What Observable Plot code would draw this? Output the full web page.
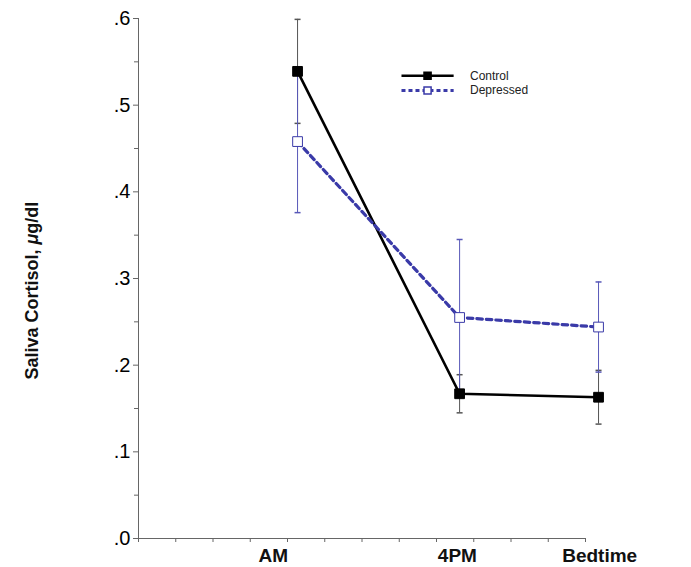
<!DOCTYPE html>
<html><head><meta charset="utf-8">
<script src="https://cdn.jsdelivr.net/npm/d3@7"></script>
<script src="https://cdn.jsdelivr.net/npm/@observablehq/plot@0.6"></script>
<style>body{margin:0;background:#fff;} svg{overflow:visible}</style>
</head><body><div id="chart"></div>
<script>
const times = ["AM", "4PM", "Bedtime"];
const timePos = [4.27, 8.62, 12.35];
const labelPos = [3.62, 8.56, 12.38];
const controlMean = [0.539, 0.167, 0.163];
const controlErr = [0.060, 0.022, 0.031];
const depressedMean = [0.458, 0.255, 0.244];
const depressedErr = [0.082, 0.090, 0.052];
const yTicks = [0, 0.1, 0.2, 0.3, 0.4, 0.5, 0.6];
const yMinor = [0.05, 0.15, 0.25, 0.35, 0.45, 0.55];
const xTicks = d3.range(0, 13);
const yTitle = "Saliva Cortisol, μg/dl";
const legendItems = ["Control", "Depressed"];

const control = times.map((t, i) => ({t, x: timePos[i], y: controlMean[i], lo: controlMean[i] - controlErr[i], hi: controlMean[i] + controlErr[i]}));
const depressed = times.map((t, i) => ({t, x: timePos[i], y: depressedMean[i], lo: depressedMean[i] - depressedErr[i], hi: depressedMean[i] + depressedErr[i]}));

const capSymbol = {draw(ctx, size) { const w = 3; ctx.moveTo(-w, 0); ctx.lineTo(w, 0); }};
const blue = "#3a3aa8";
const blueBar = "#5858b8";
const grayBar = "#555";

// legend in data coordinates
const legX1 = 7.06, legX2 = 8.46, legXm = 7.76, legTx = 8.9;
const legY = [0.534, 0.517];

const fontFamily = "'Liberation Sans', Arial, Helvetica, sans-serif";

const chart = Plot.plot({
  width: 691,
  height: 567,
  marginLeft: 138,
  marginRight: 106,
  marginTop: 18,
  marginBottom: 29,
  style: {fontFamily, fontSize: "20px", background: "#fff", color: "#000"},
  x: {type: "linear", domain: [0, 12], axis: null},
  y: {type: "linear", domain: [0, 0.6], axis: null},
  marks: [
    // axes
    Plot.ruleX([0], {stroke: "#666", strokeWidth: 1}),
    Plot.ruleY([0], {stroke: "#666", strokeWidth: 1}),
    Plot.axisY({ticks: yTicks, tickSize: 5, tickPadding: 3, stroke: "#666", fontSize: 20, tickFormat: d => d3.format(".1f")(d).replace(/^0/, ""), label: null}),
    Plot.axisY({ticks: yMinor, tickSize: 4, tickFormat: () => "", stroke: "#666", label: null}),
    Plot.axisX({ticks: xTicks, tickSize: 4, tickFormat: () => "", stroke: "#666", label: null}),
    Plot.text(times, {x: (d, i) => labelPos[i], y: () => 0, text: d => d, dy: 17, fontWeight: "bold", fontSize: 19, fill: "#111"}),
    Plot.text([yTitle], {x: () => -2.85, y: () => 0.286, text: d => d, rotate: -90, fontWeight: "bold", fontSize: 18, fill: "#111", className: "ytitle"}),
    // error bars
    Plot.ruleX(control, {x: "x", y1: "lo", y2: "hi", stroke: grayBar, strokeWidth: 1}),
    Plot.dot(control, {x: "x", y: "lo", symbol: capSymbol, stroke: grayBar, r: 3}),
    Plot.dot(control, {x: "x", y: "hi", symbol: capSymbol, stroke: grayBar, r: 3}),
    Plot.ruleX(depressed, {x: "x", y1: "lo", y2: "hi", stroke: blueBar, strokeWidth: 1}),
    Plot.dot(depressed, {x: "x", y: "lo", symbol: capSymbol, stroke: blueBar, r: 3}),
    Plot.dot(depressed, {x: "x", y: "hi", symbol: capSymbol, stroke: blueBar, r: 3}),
    // lines
    Plot.line(control, {x: "x", y: "y", stroke: "#000", strokeWidth: 2.6}),
    Plot.line(depressed, {x: "x", y: "y", stroke: blue, strokeWidth: 3.2, strokeDasharray: "5.5,4"}),
    // markers
    Plot.dot(control, {x: "x", y: "y", symbol: "square", r: 5.5, fill: "#000", stroke: "#000", strokeWidth: 1}),
    Plot.dot(depressed, {x: "x", y: "y", symbol: "square", r: 5.5, fill: "#fff", stroke: blue, strokeWidth: 1}),
    // legend
    Plot.link([0], {x1: () => legX1, x2: () => legX2, y1: () => legY[0], y2: () => legY[0], stroke: "#000", strokeWidth: 2.6}),
    Plot.link([0], {x1: () => legX1, x2: () => legX2, y1: () => legY[1], y2: () => legY[1], stroke: blue, strokeWidth: 3, strokeDasharray: "4,3"}),
    Plot.dot([0], {x: () => legXm, y: () => legY[0], symbol: "square", r: 4, fill: "#000", stroke: "#000"}),
    Plot.dot([0], {x: () => legXm, y: () => legY[1], symbol: "square", r: 4, fill: "#fff", stroke: blue}),
    Plot.text(legendItems, {x: () => legTx, y: (d, i) => legY[i], text: d => d, textAnchor: "start", fontSize: 12, fill: "#222"})
  ]
});
document.getElementById("chart").appendChild(chart);
// italic mu in the y title
d3.select(chart).selectAll("g.ytitle text").each(function() {
  const t = d3.select(this);
  const s = t.text();
  const k = s.indexOf("μ");
  if (k < 0) return;
  t.text(null);
  t.append("tspan").text(s.slice(0, k));
  t.append("tspan").attr("font-style", "italic").text("μ");
  t.append("tspan").text(s.slice(k + 1));
});
</script></body></html>
